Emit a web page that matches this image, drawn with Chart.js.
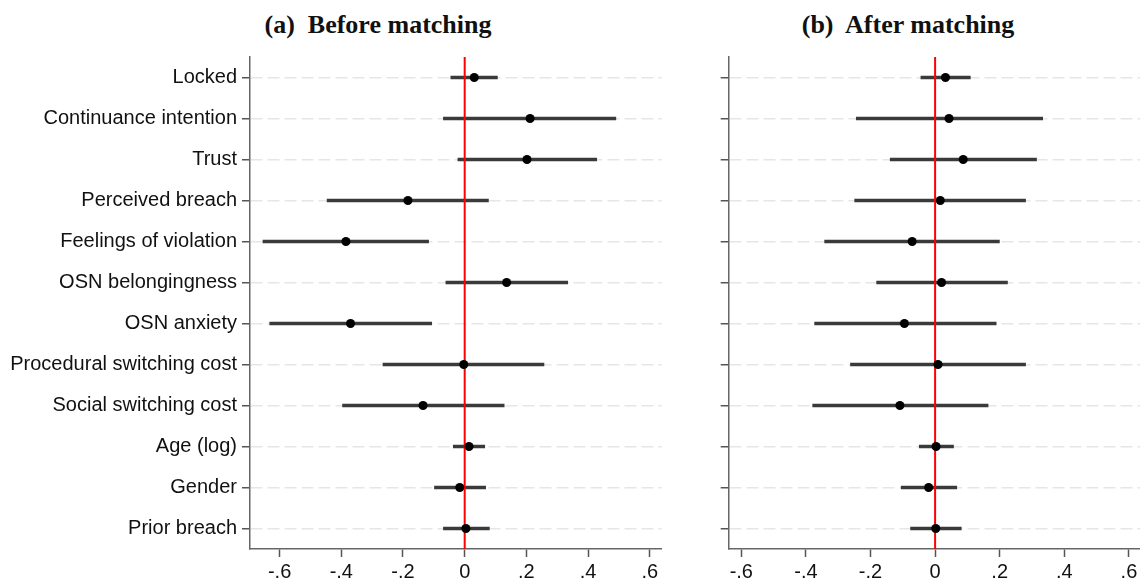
<!DOCTYPE html>
<html>
<head>
<meta charset="utf-8">
<script src="https://cdn.jsdelivr.net/npm/chart.js@4.4.1/dist/chart.umd.min.js"></script>
<style>
  html, body { margin: 0; padding: 0; background: #fff; overflow: hidden; }
  body { width: 1140px; height: 582px; position: relative; }
  .title {
    position: absolute; top: 12px; transform: translateX(-50%);
    font: bold 26px "Liberation Serif", "Times New Roman", serif;
    line-height: 26px; white-space: pre; color: #111;
  }
  .panel { position: absolute; top: 0; height: 582px; }
</style>
</head>
<body>
<div class="title" style="left:378px">(a)  Before matching</div>
<div class="title" style="left:908px">(b)  After matching</div>
<div class="panel" style="left:0;width:680px"><canvas id="before"></canvas></div>
<div class="panel" style="left:700px;width:470px"><canvas id="after"></canvas></div>

<script>
const variables = ['Locked', 'Continuance intention', 'Trust', 'Perceived breach',
  'Feelings of violation', 'OSN belongingness', 'OSN anxiety', 'Procedural switching cost',
  'Social switching cost', 'Age (log)', 'Gender', 'Prior breach'];
const xTicks = [-0.6, -0.4, -0.2, 0, 0.2, 0.4, 0.6];

// (a) before matching: estimate and confidence interval
const beforeCoef = [0.031, 0.212, 0.202, -0.184, -0.385, 0.136, -0.370, -0.003, -0.135, 0.014, -0.016, 0.004];
const beforeLow  = [-0.045, -0.069, -0.022, -0.446, -0.654, -0.061, -0.632, -0.265, -0.396, -0.037, -0.098, -0.069];
const beforeHigh = [0.106, 0.490, 0.428, 0.077, -0.117, 0.334, -0.107, 0.257, 0.128, 0.065, 0.068, 0.080];

// (b) after matching
const afterCoef = [0.032, 0.043, 0.087, 0.016, -0.071, 0.020, -0.095, 0.009, -0.109, 0.003, -0.020, 0.002];
const afterLow  = [-0.044, -0.244, -0.139, -0.249, -0.342, -0.181, -0.373, -0.262, -0.379, -0.049, -0.105, -0.076];
const afterHigh = [0.109, 0.333, 0.314, 0.280, 0.199, 0.224, 0.189, 0.280, 0.164, 0.057, 0.067, 0.081];

const labelFont = { family: '"Liberation Sans", Arial, sans-serif', size: 20 };

function fmtTick(v) {
  if (v === 0) return '0';
  return (v < 0 ? '-' : '') + Math.abs(v).toFixed(1).replace(/^0/, '');
}

function makePanel(id, coef, low, high, cfg) {
  return new Chart(document.getElementById(id), {
    type: 'scatter',
    data: {
      datasets: [
        {
          type: 'scatter',
          data: coef.map((v, i) => ({ x: v, y: i })),
          pointRadius: 4.5,
          pointBackgroundColor: '#000',
          pointBorderWidth: 0,
          order: 0
        },
        {
          type: 'line',
          data: [{ x: 0, y: -0.5 }, { x: 0, y: variables.length - 0.5 }],
          borderColor: '#ff0000',
          borderWidth: 2,
          pointRadius: 0,
          order: 1
        },
        {
          type: 'bar',
          indexAxis: 'y',
          data: low.map((v, i) => ({ y: i, x: [v, high[i]] })),
          backgroundColor: '#3a3a3a',
          borderWidth: 0,
          barThickness: 3,
          order: 2
        }
      ]
    },
    options: {
      responsive: true,
      maintainAspectRatio: false,
      animation: false,
      events: [],
      layout: { padding: { top: 57, right: cfg.padRight, bottom: 0, left: 0 } },
      plugins: { legend: { display: false }, tooltip: { enabled: false } },
      scales: {
        x: {
          type: 'linear',
          offset: false,
          min: cfg.xMin,
          max: cfg.xMax,
          afterBuildTicks: s => { s.ticks = xTicks.map(v => ({ value: v })); },
          afterFit: s => { s.height = 33; },
          grid: { offset: false, drawOnChartArea: false, drawTicks: true, tickLength: 8, tickColor: '#555', tickWidth: 1.5 },
          border: { display: true, color: '#666', width: 1.5 },
          ticks: { color: '#111', padding: 3, font: labelFont, maxRotation: 0, autoSkip: false, callback: fmtTick }
        },
        y: {
          type: 'linear',
          offset: false,
          reverse: true,
          min: -0.5,
          max: variables.length - 0.5,
          afterBuildTicks: s => { s.ticks = variables.map((_, i) => ({ value: i })); },
          afterFit: s => { s.width = cfg.axisWidth; },
          grid: { offset: false, color: '#e6e6e6', lineWidth: 1.5, tickColor: '#555', tickLength: 8, tickWidth: 1.5, tickBorderDash: [] },
          border: { display: true, color: '#666', width: 1.5, dash: [12, 5] },
          ticks: {
            color: '#111', padding: 5, font: labelFont, autoSkip: false,
            callback: (v, i) => cfg.showLabels ? variables[i] : ''
          }
        }
      }
    }
  });
}

makePanel('before', beforeCoef, beforeLow, beforeHigh,
  { xMin: -0.696, xMax: 0.639, axisWidth: 250, padRight: 18.2, showLabels: true });
makePanel('after', afterCoef, afterLow, afterHigh,
  { xMin: -0.639, xMax: 0.66, axisWidth: 28.7, padRight: 21.7, showLabels: false });
</script>
</body>
</html>
